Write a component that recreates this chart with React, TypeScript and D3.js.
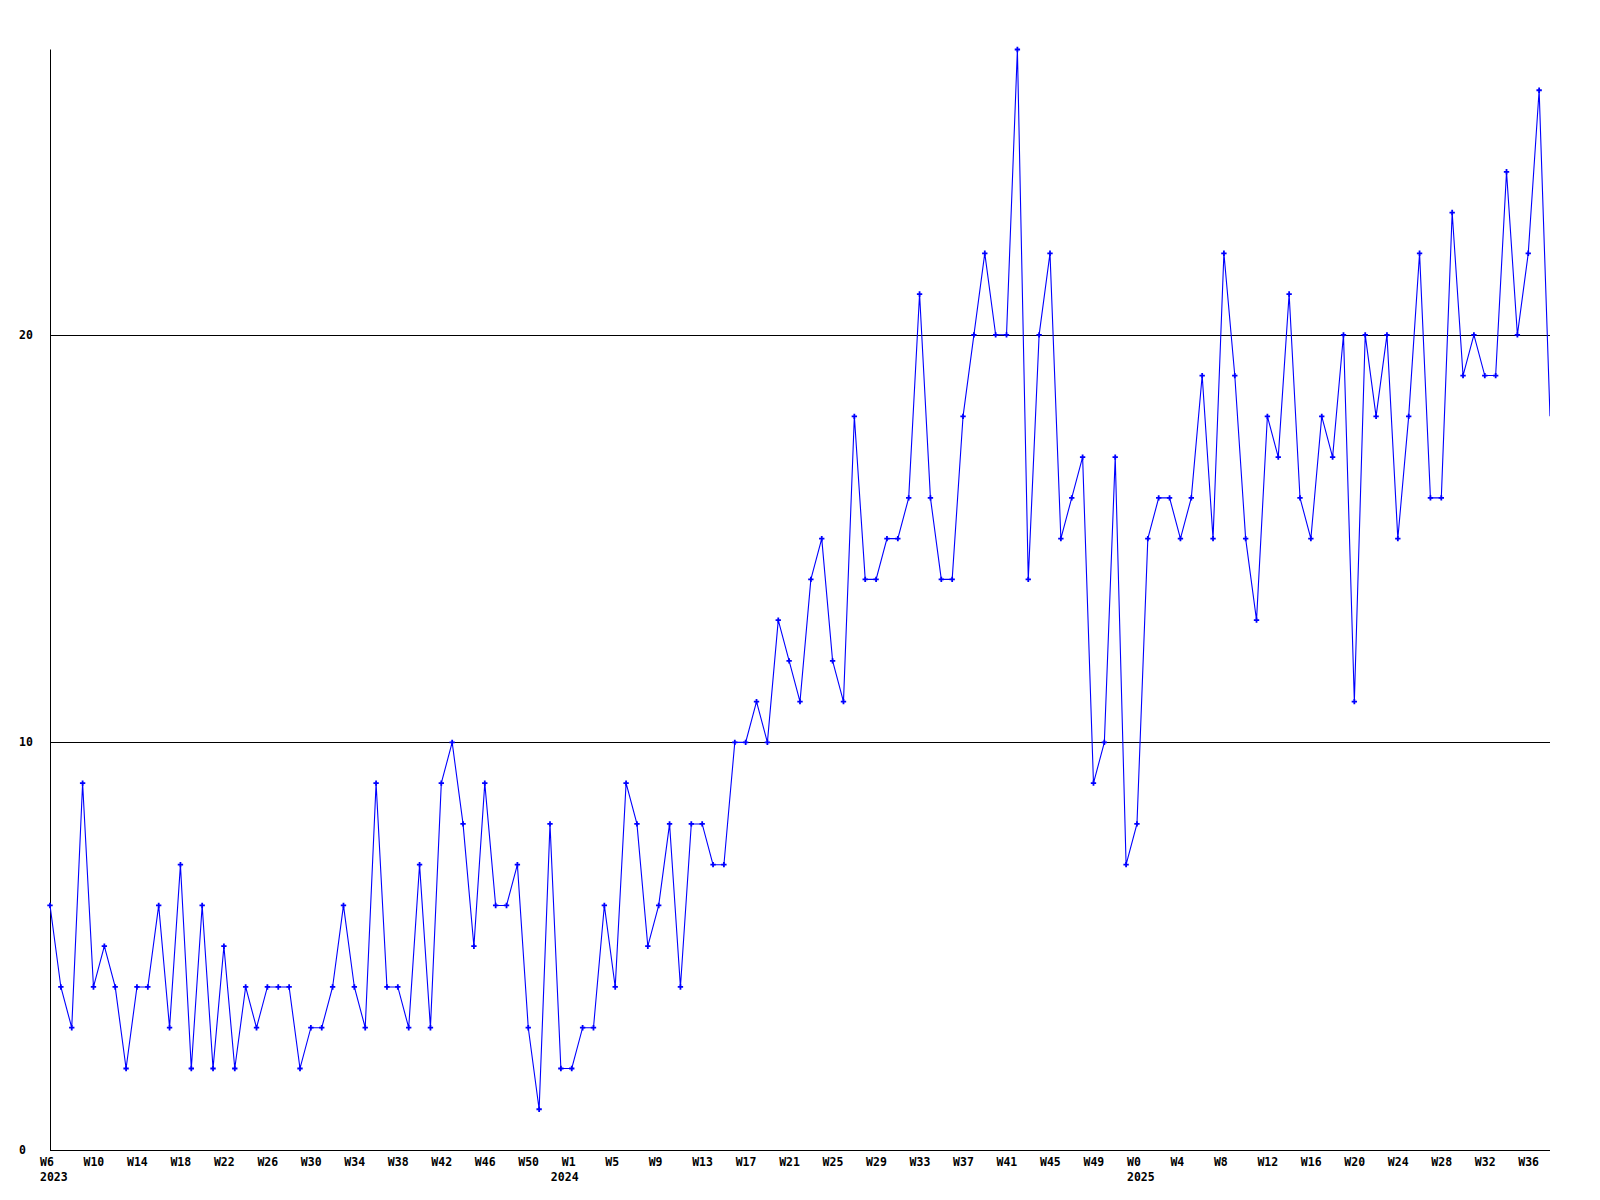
import React from "react";
import * as d3 from "d3";

// ---- data ----
const years = ["2023", "2024", "2025"];
const firstWeek = [6, 0, 0];
const values2023 = [6, 4, 3, 9, 4, 5, 4, 2, 4, 4, 6, 3, 7, 2, 6, 2, 5, 2, 4, 3, 4, 4, 4, 2, 3, 3, 4, 6, 4, 3, 9, 4, 4, 3, 7, 3, 9, 10, 8, 5, 9, 6, 6, 7, 3, 1, 8];
const values2024 = [2, 2, 3, 3, 6, 4, 9, 8, 5, 6, 8, 4, 8, 8, 7, 7, 10, 10, 11, 10, 13, 12, 11, 14, 15, 12, 11, 18, 14, 14, 15, 15, 16, 21, 16, 14, 14, 18, 20, 22, 20, 20, 27, 14, 20, 22, 15, 16, 17, 9, 10, 17, 7];
const values2025 = [8, 15, 16, 16, 15, 16, 19, 15, 22, 19, 15, 13, 18, 17, 21, 16, 15, 18, 17, 20, 11, 20, 18, 20, 15, 18, 22, 16, 16, 23, 19, 20, 19, 19, 24, 20, 22, 26, 18];
const yTicks = [0, 10, 20];
const gridLines = [10, 20];
const yMax = 27;

const seriesByYear = [values2023, values2024, values2025];

type Pt = { key: string; year: string; week: number; value: number };
const points: Pt[] = [];
seriesByYear.forEach((vals, yi) => {
  vals.forEach((v, j) => {
    const week = firstWeek[yi] + j;
    points.push({ key: `${years[yi]}-W${week}`, year: years[yi], week, value: v });
  });
});

const W = 1600;
const H = 1200;
const left = 50;
const right = 1550;
const top = 49.5;
const bottom = 1150;
const font = "'DejaVu Sans Mono', monospace";

export default function App() {
  const x = d3.scalePoint<string>().domain(points.map((p) => p.key)).range([left, right]);
  const y = d3.scaleLinear().domain([0, yMax]).range([bottom, top]);

  const line = d3
    .line<Pt>()
    .x((p) => x(p.key)!)
    .y((p) => y(p.value));

  const marker = d3.symbol().type(d3.symbolCross).size(16)();

  const tickPts = points.filter((_, i) => i % 4 === 0);
  const yearStarts = years.map((yr) => points.find((p) => p.year === yr)!);

  return (
    <svg
      width={W}
      height={H}
      style={{ position: "absolute", left: 0, top: 0, background: "#fff" }}
    >
      <defs>
        <clipPath id="plotClip">
          <rect x={left} y={0} width={right - left} height={bottom + 2} />
        </clipPath>
        <clipPath id="markClip">
          <rect x={left - 4} y={0} width={right - left + 1} height={bottom + 2} />
        </clipPath>
      </defs>
      <rect x={0} y={0} width={W} height={H} fill="#fff" />

      {/* grid lines */}
      {gridLines.map((g) => (
        <line
          key={g}
          x1={left}
          x2={right}
          y1={Math.round(y(g)) + 0.5}
          y2={Math.round(y(g)) + 0.5}
          stroke="#000"
          strokeWidth={1}
        />
      ))}

      {/* axes */}
      <line x1={left + 0.5} x2={left + 0.5} y1={top} y2={bottom + 0.5} stroke="#000" strokeWidth={1} />
      <line x1={left} x2={right} y1={bottom + 0.5} y2={bottom + 0.5} stroke="#000" strokeWidth={1} />

      {/* y labels */}
      {yTicks.map((t) => (
        <text
          key={t}
          x={19}
          y={y(t)}
          dy="0.35em"
          fontFamily={font}
          fontWeight="bold"
          fontSize={11.5}
          fill="#000"
        >
          {t}
        </text>
      ))}

      {/* x labels */}
      {tickPts.map((p) => (
        <text
          key={p.key}
          x={x(p.key)! - 10}
          y={1162}
          dy="0.35em"
          fontFamily={font}
          fontWeight="bold"
          fontSize={11.5}
          fill="#000"
        >
          {`W${p.week}`}
        </text>
      ))}
      {yearStarts.map((p) => (
        <text
          key={p.year}
          x={x(p.key)! - 10}
          y={1177}
          dy="0.35em"
          fontFamily={font}
          fontWeight="bold"
          fontSize={11.5}
          fill="#000"
        >
          {p.year}
        </text>
      ))}

      {/* series */}
      <g clipPath="url(#plotClip)">
        <path d={line(points) ?? ""} fill="none" stroke="#0000ff" strokeWidth={1.1} />
      </g>
      <g clipPath="url(#markClip)">
        {points.map((p) => (
          <path
            key={p.key}
            d={marker!}
            transform={`translate(${x(p.key)},${y(p.value)})`}
            fill="#0000ff"
          />
        ))}
      </g>
    </svg>
  );
}
